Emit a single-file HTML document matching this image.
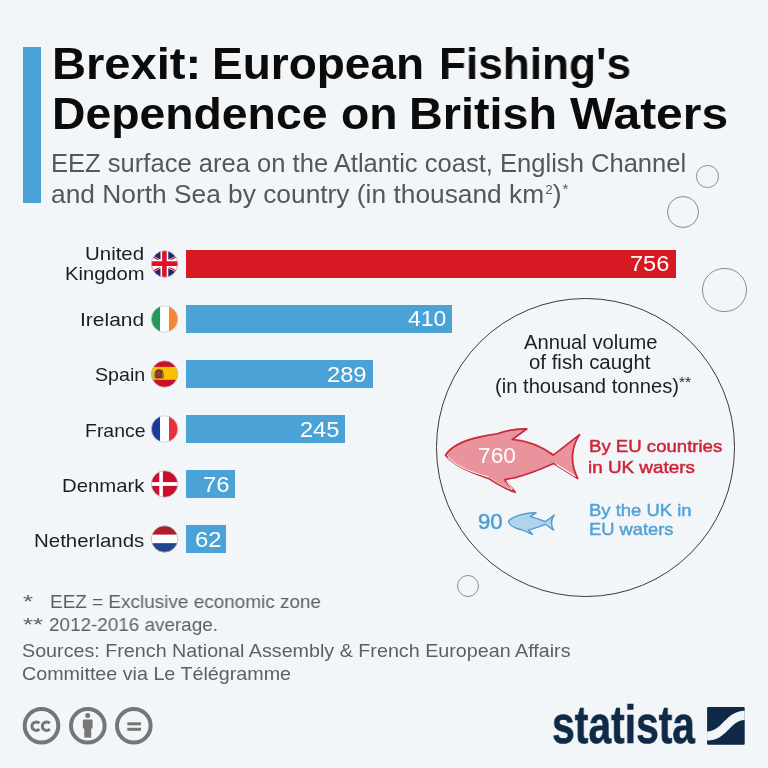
<!DOCTYPE html>
<html><head><meta charset="utf-8">
<style>
*{margin:0;padding:0;box-sizing:border-box}
html,body{width:768px;height:768px;overflow:hidden;background:#f3f6f9}
body{position:relative;font-family:"Liberation Sans",sans-serif}
.t{position:absolute;white-space:nowrap;line-height:1;transform-origin:0 0;will-change:transform}
.sup2{font-size:13px;vertical-align:9px;margin-left:1px}
.sup1{font-size:15px;vertical-align:9px;margin-left:1px}
.sup3{font-size:15px;vertical-align:6px}
.bar{position:absolute;left:186px;height:28px;background:#4aa2d7}
.ring{position:absolute;border:1.3px solid #8c8c8c;border-radius:50%}
svg{position:absolute;overflow:visible}
</style></head><body>
<div style="position:absolute;left:23px;top:47px;width:18px;height:156px;background:#4aa2d7"></div>

<div class="ring" style="left:696px;top:165px;width:22.6px;height:22.6px"></div>
<div class="ring" style="left:667px;top:196px;width:32.2px;height:32.2px"></div>
<div class="ring" style="left:702px;top:267.5px;width:44.8px;height:44.8px"></div>
<div class="ring" style="left:436px;top:298px;width:298.5px;height:298.5px;border-color:#3a3a3a;border-width:1.2px"></div>
<div class="ring" style="left:457px;top:575px;width:22px;height:22px"></div>

<div class="bar" style="top:250px;width:490px;background:#d71923"></div>
<div class="bar" style="top:305px;width:265.6px"></div>
<div class="bar" style="top:360px;width:187px"></div>
<div class="bar" style="top:415px;width:158.5px"></div>
<div class="bar" style="top:470px;width:49.2px"></div>
<div class="bar" style="top:525px;width:40px"></div>

<!-- flags -->
<svg width="768" height="768" style="left:0;top:0" viewBox="0 0 768 768">
<defs>
<clipPath id="cuk"><circle cx="164.6" cy="264" r="13.2"/></clipPath>
<clipPath id="cie"><circle cx="164.6" cy="319" r="13.2"/></clipPath>
<clipPath id="ces"><circle cx="164.6" cy="374" r="13.2"/></clipPath>
<clipPath id="cfr"><circle cx="164.6" cy="429" r="13.2"/></clipPath>
<clipPath id="cdk"><circle cx="164.6" cy="484" r="13.2"/></clipPath>
<clipPath id="cnl"><circle cx="164.6" cy="539" r="13.2"/></clipPath>
</defs>
<g clip-path="url(#cuk)">
<rect x="140" y="249" width="50" height="30" fill="#1d2a68"/>
<path d="M138 250.5 L191 277.5 M191 250.5 L138 277.5" stroke="#fff" stroke-width="4.2"/>
<path d="M138 249.3 L164.6 263 M191 278.7 L164.6 265 M191 249.3 L164.6 263 M138 278.7 L164.6 265" stroke="#c8102e" stroke-width="1.4"/>
<path d="M164.4 249 V279 M140 263.6 H190" stroke="#fff" stroke-width="7.8"/>
<path d="M164.4 249 V279 M140 263.6 H190" stroke="#e0102a" stroke-width="4.6"/>
</g>
<g clip-path="url(#cie)">
<rect x="150" y="304" width="10.2" height="30" fill="#1f9a5a"/>
<rect x="160.2" y="304" width="8.8" height="30" fill="#fff"/>
<rect x="169" y="304" width="12" height="30" fill="#f58634"/>
</g>
<g clip-path="url(#ces)">
<rect x="150" y="359" width="30" height="30" fill="#cc0f28"/>
<rect x="150" y="366.9" width="30" height="12.9" fill="#f7c000"/>
<path d="M154.5 377.5 Q154 371 157 369.5 Q160 368.5 162.5 370.5 Q164.2 373 163.8 378.3 L156 378.6 Z" fill="#6e3a1c"/>
<path d="M156.5 372 Q158.5 370.5 160.5 372.2 L160.3 376.2 Q158.3 377.2 156.6 376 Z" fill="#a8303a"/>
<rect x="154.3" y="372.5" width="1.3" height="5.5" fill="#8a8a3a"/>
<rect x="162.2" y="372.5" width="1.3" height="5.5" fill="#9a9a4a"/>
</g>
<g clip-path="url(#cfr)">
<rect x="150" y="414" width="10.2" height="30" fill="#1a3a9c"/>
<rect x="160.2" y="414" width="8.8" height="30" fill="#fff"/>
<rect x="169" y="414" width="12" height="30" fill="#e8303c"/>
</g>
<g clip-path="url(#cdk)">
<rect x="150" y="469" width="30" height="30" fill="#c8102e"/>
<rect x="159.3" y="469" width="3.6" height="30" fill="#fff"/>
<rect x="150" y="482.1" width="30" height="3.8" fill="#fff"/>
</g>
<g clip-path="url(#cnl)">
<rect x="150" y="524" width="30" height="30" fill="#ae1c28"/>
<rect x="150" y="534.6" width="30" height="8.8" fill="#fff"/>
<rect x="150" y="543.4" width="30" height="12" fill="#21468b"/>
</g>
<g fill="none" stroke="#c4c4c4" stroke-width="0.7">
<circle cx="164.6" cy="264" r="13.2"/><circle cx="164.6" cy="319" r="13.2"/><circle cx="164.6" cy="374" r="13.2"/>
<circle cx="164.6" cy="429" r="13.2"/><circle cx="164.6" cy="484" r="13.2"/><circle cx="164.6" cy="539" r="13.2"/>
</g>

<!-- big fish -->
<path transform="translate(0.9 -0.9)" d="M445.5 455.2 C450 448 462 441 479 437.2 C486 435.5 492 434.5 496.6 434 C505 431 515 428.5 526.9 428.8 L512.3 439.5 C530 441 545 449 553.3 455.2 L579.6 434.6 C572 446 569 462 577.7 478.6 L553.8 463.5 C546 467 532 473.5 515.2 477.6 L504.5 479.6 L515.2 492.3 C508 490 500 486 488.8 478.6 C475 474 455 467 445.5 455.2 Z" fill="#e9939c"/>
<path d="M445.5 455.2 C450 448 462 441 479 437.2 C486 435.5 492 434.5 496.6 434 C505 431 515 428.5 526.9 428.8 L512.3 439.5 C530 441 545 449 553.3 455.2 L579.6 434.6 C572 446 569 462 577.7 478.6 L553.8 463.5 C546 467 532 473.5 515.2 477.6 L504.5 479.6 L515.2 492.3 C508 490 500 486 488.8 478.6 C475 474 455 467 445.5 455.2 Z" fill="none" stroke="#c92b3d" stroke-width="1.7" stroke-linejoin="round"/>
<path d="M447.8 457.5 C456 467 474 473 488.5 477 M506.5 480.5 L512.5 489.5 M575.5 476.5 L556.5 464.5" fill="none" stroke="#fff" stroke-width="1.1" opacity="0.9"/>
<!-- small fish -->
<path transform="translate(0.6 -0.6)" d="M508.5 521.7 C510 518 518 515 524.4 514 C526 513.6 527 513.4 528 513.3 C531 512.8 534 512.6 536.1 512.9 L530.3 516.6 C534 517.5 537 518.5 545.2 521.7 L554.3 515.1 C551 518 550.5 526 553.6 530.1 L545.6 524.2 C541 526 538 527.5 528.4 530.1 L532.4 534.4 C529 533 527 532 525.9 531.2 C522 530 520 529.5 518.6 529 C514 527.5 510 525 508.5 521.7 Z" fill="#b0d4ec"/>
<path d="M508.5 521.7 C510 518 518 515 524.4 514 C526 513.6 527 513.4 528 513.3 C531 512.8 534 512.6 536.1 512.9 L530.3 516.6 C534 517.5 537 518.5 545.2 521.7 L554.3 515.1 C551 518 550.5 526 553.6 530.1 L545.6 524.2 C541 526 538 527.5 528.4 530.1 L532.4 534.4 C529 533 527 532 525.9 531.2 C522 530 520 529.5 518.6 529 C514 527.5 510 525 508.5 521.7 Z" fill="none" stroke="#5399cf" stroke-width="1.4" stroke-linejoin="round"/>

<!-- cc icons -->
<g fill="none" stroke="#767676" stroke-width="4">
<circle cx="41.5" cy="725.8" r="16.8"/>
<circle cx="87.8" cy="725.8" r="16.8"/>
<circle cx="133.8" cy="725.8" r="16.8"/>
</g>
<g fill="#767676">
<path d="M39.40 723.32 A4.30 4.30 0 1 0 39.40 729.08 M49.80 723.32 A4.30 4.30 0 1 0 49.80 729.08" fill="none" stroke="#767676" stroke-width="3"/>
<circle cx="87.7" cy="715.5" r="2.5"/>
<rect x="82.9" y="719.4" width="9.7" height="9.2" rx="0.8"/>
<rect x="84.3" y="728" width="6.9" height="9.6"/>
<rect x="127.3" y="722.3" width="13.7" height="3"/>
<rect x="127.3" y="727.8" width="13.7" height="3"/>
</g>

<!-- statista icon -->
<g transform="translate(707.1 707.1)">
<rect x="0" y="0" width="37.6" height="37.6" rx="1" fill="#0e2a47"/>
<path d="M0 24.4 C15 24.4 19 3.7 37.6 3.7 L37.6 12.9 C23 12.9 20 33.5 0 33.5 Z" fill="#f3f6f9"/>
</g>
</svg>

<div class="t w" id="t1_0" style="left:52.27px;top:41.01px;font-size:45px;font-weight:bold;color:#0b0b0b;transform:scaleX(1.0467);">Brexit:</div>
<div class="t w" id="t1_1" style="left:212.14px;top:41.01px;font-size:45px;font-weight:bold;color:#0b0b0b;transform:scaleX(1.0218);">European</div>
<div class="t w" id="t1_2" style="left:438.85px;top:41.01px;font-size:45px;font-weight:bold;color:#0b0b0b;transform:scaleX(0.9812);">Fishing's</div>
<div class="t w" id="t2_0" style="left:52.32px;top:91.11px;font-size:45px;font-weight:bold;color:#0b0b0b;transform:scaleX(1.0293);">Dependence</div>
<div class="t w" id="t2_1" style="left:340.54px;top:91.11px;font-size:45px;font-weight:bold;color:#0b0b0b;transform:scaleX(1.0280);">on</div>
<div class="t w" id="t2_2" style="left:409.27px;top:91.11px;font-size:45px;font-weight:bold;color:#0b0b0b;transform:scaleX(1.0380);">British</div>
<div class="t w" id="t2_3" style="left:570.21px;top:91.11px;font-size:45px;font-weight:bold;color:#0b0b0b;transform:scaleX(1.0653);">Waters</div>
<div class="t" id="s1" style="left:50.99px;top:151.11px;font-size:25.5px;font-weight:normal;color:#52585e;transform:scaleX(1.0025);">EEZ surface area on the Atlantic coast, English Channel</div>
<div class="t" id="s2" style="left:50.95px;top:181.31px;font-size:25.5px;font-weight:normal;color:#52585e;transform:scaleX(1.0324);">and North Sea by country (in thousand km<span class=sup2>2</span>)<span class=sup1>*</span></div>
<div class="t" id="l1" style="left:85.44px;top:243.92px;font-size:19px;font-weight:normal;color:#1e1e1e;transform:scaleX(1.0764);">United</div>
<div class="t" id="l2" style="left:64.53px;top:264.12px;font-size:19px;font-weight:normal;color:#1e1e1e;transform:scaleX(1.0616);">Kingdom</div>
<div class="t" id="l3" style="left:79.74px;top:310.32px;font-size:19px;font-weight:normal;color:#1e1e1e;transform:scaleX(1.1055);">Ireland</div>
<div class="t" id="l4" style="left:94.97px;top:365.12px;font-size:19px;font-weight:normal;color:#1e1e1e;transform:scaleX(1.0326);">Spain</div>
<div class="t" id="l5" style="left:84.79px;top:421.02px;font-size:19px;font-weight:normal;color:#1e1e1e;transform:scaleX(1.0237);">France</div>
<div class="t" id="l6" style="left:61.72px;top:476.02px;font-size:19px;font-weight:normal;color:#1e1e1e;transform:scaleX(1.0697);">Denmark</div>
<div class="t" id="l7" style="left:33.92px;top:530.82px;font-size:19px;font-weight:normal;color:#1e1e1e;transform:scaleX(1.0767);">Netherlands</div>
<div class="t" id="v1" style="left:629.51px;top:253.28px;font-size:22px;font-weight:normal;color:#ffffff;transform:scaleX(1.0714);">756</div>
<div class="t" id="v2" style="left:407.61px;top:308.38px;font-size:22px;font-weight:normal;color:#ffffff;transform:scaleX(1.0444);">410</div>
<div class="t" id="v3" style="left:327.30px;top:363.68px;font-size:22px;font-weight:normal;color:#ffffff;transform:scaleX(1.0771);">289</div>
<div class="t" id="v4" style="left:299.76px;top:418.68px;font-size:22px;font-weight:normal;color:#ffffff;transform:scaleX(1.0714);">245</div>
<div class="t" id="v5" style="left:202.54px;top:473.68px;font-size:22px;font-weight:normal;color:#ffffff;transform:scaleX(1.0870);">76</div>
<div class="t" id="v6" style="left:194.75px;top:528.68px;font-size:22px;font-weight:normal;color:#ffffff;transform:scaleX(1.0870);">62</div>
<div class="t" id="c1" style="left:524.20px;top:332.59px;font-size:19.5px;font-weight:normal;color:#1e1e1e;transform:scaleX(1.0344);">Annual volume</div>
<div class="t" id="c2" style="left:528.95px;top:353.09px;font-size:19.5px;font-weight:normal;color:#1e1e1e;transform:scaleX(1.0470);">of fish caught</div>
<div class="t" id="c3" style="left:494.78px;top:374.09px;font-size:19.5px;font-weight:normal;color:#1e1e1e;transform:scaleX(1.0351);">(in thousand tonnes)<span class=sup3>**</span></div>
<div class="t" id="f760" style="left:477.97px;top:444.78px;font-size:22px;font-weight:normal;color:#ffffff;transform:scaleX(1.0343);">760</div>
<div class="t" id="f90" style="left:478.19px;top:511.28px;font-size:22px;font-weight:normal;-webkit-text-stroke:0.5px #4c9ed3;color:#4c9ed3;transform:scaleX(1.0087);">90</div>
<div class="t" id="r1" style="left:588.74px;top:437.91px;font-size:17px;font-weight:normal;-webkit-text-stroke:0.45px #cf2236;color:#cf2236;transform:scaleX(1.0933);">By EU countries</div>
<div class="t" id="r2" style="left:588.47px;top:458.51px;font-size:17px;font-weight:normal;-webkit-text-stroke:0.45px #cf2236;color:#cf2236;transform:scaleX(1.1095);">in UK waters</div>
<div class="t" id="b1" style="left:588.75px;top:502.01px;font-size:17px;font-weight:normal;-webkit-text-stroke:0.45px #52a2d6;color:#52a2d6;transform:scaleX(1.0849);">By the UK in</div>
<div class="t" id="b2" style="left:588.51px;top:520.96px;font-size:17px;font-weight:normal;-webkit-text-stroke:0.45px #52a2d6;color:#52a2d6;transform:scaleX(1.0779);">EU waters</div>
<div class="t" id="n0" style="left:22.82px;top:591.72px;font-size:19px;font-weight:normal;color:#5b6067;transform:scaleX(1.3571);">*</div>
<div class="t" id="n1" style="left:50.40px;top:591.72px;font-size:19px;font-weight:normal;color:#5b6067;transform:scaleX(0.9967);">EEZ = Exclusive economic zone</div>
<div class="t" id="n2a" style="left:22.82px;top:614.72px;font-size:19px;font-weight:normal;color:#5b6067;transform:scaleX(1.3533);">**</div>
<div class="t" id="n2" style="left:49.01px;top:614.72px;font-size:19px;font-weight:normal;color:#5b6067;transform:scaleX(0.9934);">2012-2016 average.</div>
<div class="t" id="n3" style="left:21.94px;top:640.92px;font-size:19px;font-weight:normal;color:#5b6067;transform:scaleX(1.0374);">Sources: French National Assembly &amp; French European Affairs</div>
<div class="t" id="n4" style="left:21.94px;top:664.42px;font-size:19px;font-weight:normal;color:#5b6067;transform:scaleX(1.0372);">Committee via Le Télégramme</div>
<div class="t" id="logo" style="left:552.02px;top:698.24px;font-size:53px;font-weight:bold;-webkit-text-stroke:0.6px #0e2a47;color:#0e2a47;transform:scaleX(0.7709);">statista</div>
</body></html>
